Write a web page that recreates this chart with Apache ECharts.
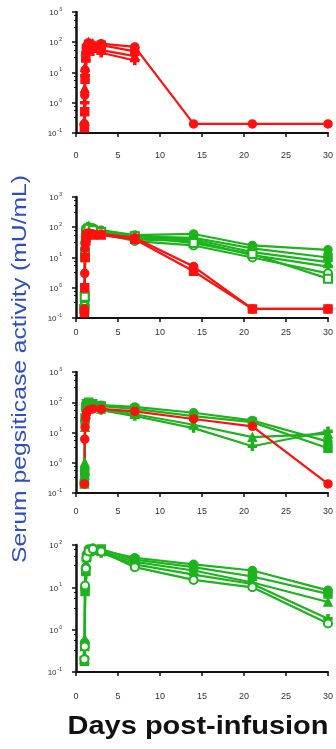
<!DOCTYPE html>
<html>
<head>
<meta charset="utf-8">
<script src="https://cdn.jsdelivr.net/npm/echarts@6/dist/echarts.min.js"></script>
<style>
  html, body { margin: 0; padding: 0; background: #fff; }
  #chart { width: 336px; height: 749px; }
</style>
</head>
<body>
<div id="chart"></div>
<script>
// sampling times (days); the first few are hours after infusion on day 1
const days = [1, 1.04, 1.08, 1.17, 1.25, 1.5, 2, 3, 7, 14, 21, 30];

// panel 1: all red
const p1Red = [
  [0.2, 1.8, 12, 45, 75, 95, 80, 90, 70, 0.2, 0.2, 0.2],
  [0.15, 0.5, 6, 30, 60, 85, 70, 80, 50, null, null, null],
  [0.25, 3, 15, 50, 90, 100, 90, 55, 35, null, null, null],
  [0.2, 1, 8, 25, 45, 60, 50, 45, 25, null, null, null]
];
// panel 2
const p2Green = [
  [0.25, 0.5, 20, 60, 90, 100, 95, 80, 55, 60, 25, 18],
  [0.2, 0.3, 10, 50, 80, 90, 85, 70, 50, 45, 20, 10],
  [0.3, 1, 25, 70, 100, 110, 90, 75, 45, 40, 15, 7],
  [0.2, 0.4, 15, 40, 70, 85, 80, 65, 40, 35, 12, 5],
  [0.25, 0.6, 30, 80, 95, 100, 90, 60, 35, 25, 10, 3],
  [0.2, 0.5, 12, 45, 75, 90, 80, 70, 50, 30, 13, 2]
];
const p2Red = [
  [0.2, 3, 20, 45, 60, 65, 60, 60, 45, 5, 0.2, 0.2],
  [0.15, 1, 10, 35, 55, 60, 55, 55, 40, 3.5, 0.2, 0.2]
];
// panel 3
const p3Green = [
  [0.25, 0.3, 20, 60, 80, 90, 85, 80, 70, 45, 25, 5],
  [0.2, 0.5, 30, 70, 90, 100, 90, 75, 60, 35, 22, 3],
  [0.3, 1, 15, 50, 70, 80, 70, 60, 40, 18, 7, 9],
  [0.2, 0.4, 25, 60, 85, 95, 80, 55, 35, 14, 3.5, 11]
];
const p3Red = [
  [0.2, 6, 15, 30, 45, 55, 60, 60, 50, 28, 16, 0.2]
];
// panel 4
const p4Green = [
  [0.2, 0.5, 10, 30, 60, 80, 85, 75, 50, 35, 25, 8.5],
  [0.18, 0.4, 8, 25, 50, 70, 75, 80, 45, 30, 18, 7],
  [0.2, 0.6, 12, 35, 55, 75, 80, 70, 40, 25, 13, 4.5],
  [0.22, 0.5, 9, 20, 45, 65, 70, 65, 35, 20, 12, 1.8],
  [0.2, 0.4, 11, 28, 50, 70, 80, 70, 30, 15, 10, 1.4]
];

const RED = '#ff1010';
const GREEN = '#1db31d';
const plus = 'path://M3,0H5V3H8V5H5V8H3V5H0V3H3Z';
const symbols = ['circle', 'rect', 'triangle', plus, 'emptyCircle', 'emptyRect', 'diamond'];

const grids = [
  { left: 76, width: 252, top: 12, height: 121 },
  { left: 76, width: 252, top: 197, height: 121 },
  { left: 76, width: 252, top: 372, height: 121 },
  { left: 76, width: 252, top: 545, height: 127 }
];
const yMax = [1000, 1000, 1000, 100];
const labelMargin = [18, 10, 14, 20];

// stretch a title so it spans the same length as in the picture
function fitScale(text, font, target) {
  const ctx = document.createElement('canvas').getContext('2d');
  ctx.font = font;
  return target / ctx.measureText(text).width;
}
const yTitle = 'Serum pegsiticase activity (mU/mL)';
const yFont = '21px "Liberation Sans", Arial, sans-serif';
const xTitle = 'Days post-infusion';
const xFont = 'bold 25px "Liberation Sans", Arial, sans-serif';

const xAxes = grids.map((g, i) => ({
  type: 'value', gridIndex: i, min: 0, max: 30, interval: 5,
  axisLine: { lineStyle: { color: '#111', width: 2 } },
  axisTick: { length: 4, lineStyle: { color: '#111', width: 1.5 } },
  splitLine: { show: false },
  axisLabel: { fontSize: 9, color: '#333', margin: labelMargin[i], fontFamily: 'Liberation Sans' }
}));

const yAxes = grids.map((g, i) => ({
  type: 'log', logBase: 10, gridIndex: i, min: 0.1, max: yMax[i],
  axisLine: { show: true, lineStyle: { color: '#111', width: 2.5 } },
  axisTick: { show: true, length: 4, lineStyle: { color: '#111', width: 1.5 } },
  minorTick: { show: true, splitNumber: 4, length: 2, lineStyle: { color: '#111' } },
  splitLine: { show: false },
  axisLabel: {
    margin: 14,
    formatter: v => '{b|10}{s|' + Math.round(Math.log10(v)) + '}',
    rich: {
      b: { fontSize: 8, color: '#333', fontFamily: 'Liberation Sans', lineHeight: 10, verticalAlign: 'bottom' },
      s: { fontSize: 5, color: '#333', fontFamily: 'Liberation Sans', lineHeight: 10, verticalAlign: 'top', padding: [0, 0, 0, 1] }
    }
  }
}));

const series = [];
function addGroup(panel, list, color) {
  list.forEach((vals, k) => {
    series.push({
      type: 'line', xAxisIndex: panel, yAxisIndex: panel,
      data: days.map((d, j) => [d, vals[j]]),
      symbol: symbols[k % symbols.length], symbolSize: 8,
      lineStyle: { color: color, width: 2.2 },
      itemStyle: { color: color, borderColor: color, borderWidth: 1.5 },
      connectNulls: false, animation: false
    });
  });
}
addGroup(0, p1Red, RED);
addGroup(1, p2Green, GREEN);
addGroup(1, p2Red, RED);
addGroup(2, p3Green, GREEN);
addGroup(2, p3Red, RED);
addGroup(3, p4Green, GREEN);

const chart = echarts.init(document.getElementById('chart'));
chart.setOption({
  backgroundColor: '#fff',
  animation: false,
  grid: grids,
  xAxis: xAxes,
  yAxis: yAxes,
  series: series,
  graphic: [
    {
      type: 'text', x: 20, y: 369, rotation: Math.PI / 2,
      scaleX: fitScale(yTitle, yFont, 388),
      style: {
        text: yTitle, fill: '#2d4fbf', font: yFont,
        textAlign: 'center', textVerticalAlign: 'middle'
      }
    },
    {
      type: 'text', x: 198, y: 727,
      scaleX: fitScale(xTitle, xFont, 261),
      style: {
        text: xTitle, fill: '#111', font: xFont,
        textAlign: 'center', textVerticalAlign: 'middle'
      }
    }
  ]
});
</script>
</body>
</html>
